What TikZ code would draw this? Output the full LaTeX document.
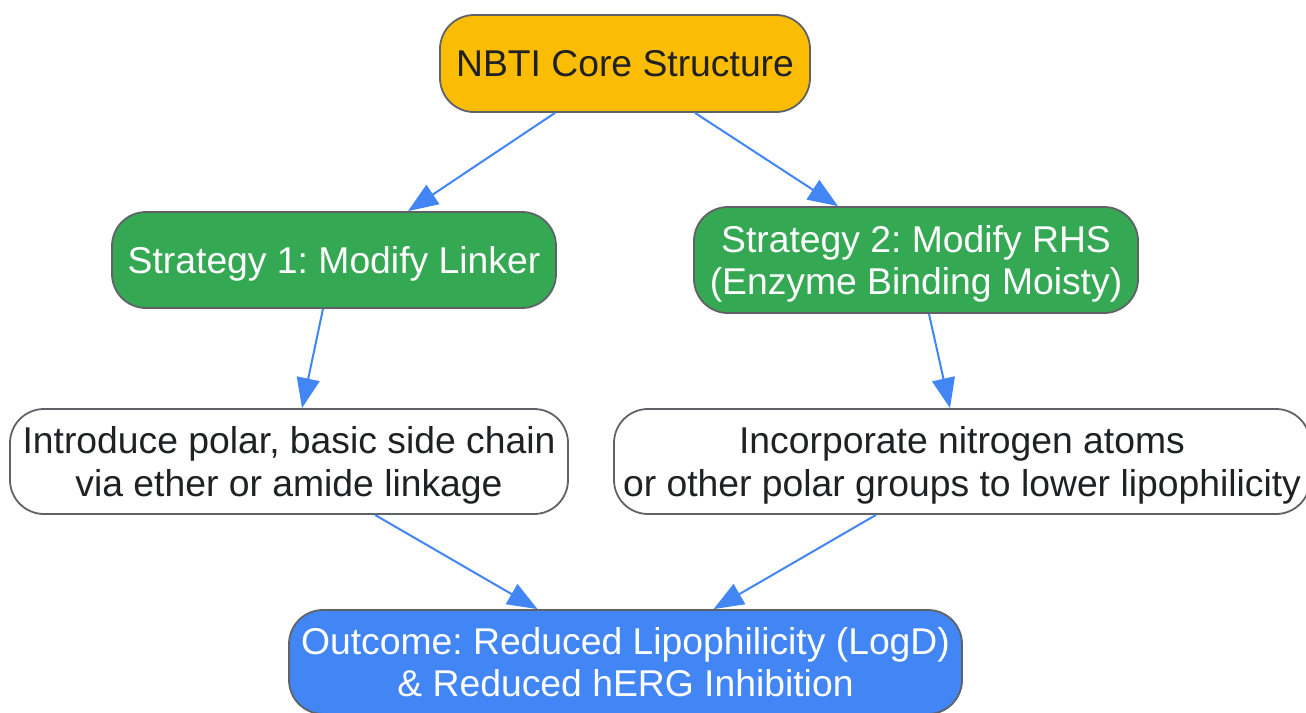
\documentclass[tikz,border=0pt]{standalone}
\usepackage{fontspec}
\setmainfont{Liberation Sans}
\usetikzlibrary{arrows.meta}
\definecolor{coreyellow}{HTML}{FBBC04}
\definecolor{stratgreen}{HTML}{34A853}
\definecolor{outblue}{HTML}{4285F4}
\definecolor{edgegray}{HTML}{5F6368}
\definecolor{inkdark}{HTML}{202124}
\begin{document}
\frenchspacing
\begin{tikzpicture}[x=1pt,y=-1pt,
    box/.style={draw=edgegray,line width=1.8pt,rounded corners=34pt,align=center,inner sep=0pt,
      text depth=0pt,font=\fontsize{37.3}{42.5}\selectfont,text=inkdark},
    flow/.style={draw=outblue,line width=2pt,-{Triangle[length=30pt,width=23pt]}}]
  \useasboundingbox (0,0) rectangle (1306,712);
  \fill[white] (0,0) rectangle (1306,712);
  % nodes
  \node[box,fill=coreyellow,minimum width=370pt,minimum height=97pt] (core) at (625,63.5) {NBTI Core Structure};
  \node[box,fill=stratgreen,text=white,minimum width=444pt,minimum height=96pt] (linker) at (334,260) {Strategy 1: Modify Linker};
  \node[box,fill=stratgreen,text=white,minimum width=444pt,minimum height=106pt] (rhs) at (916,260) {Strategy 2: Modify RHS\\(Enzyme Binding Moisty)};
  \node[box,fill=white,minimum width=558pt,minimum height=105pt] (polar) at (289,461.5) {Introduce polar, basic side chain\\via ether or amide linkage};
  \node[box,fill=white,minimum width=696pt,minimum height=105pt] (nitro) at (962,461.5) {Incorporate nitrogen atoms\\or other polar groups to lower lipophilicity};
  \node[box,fill=outblue,text=white,minimum width=673pt,minimum height=104pt] (outcome) at (625.5,662) {Outcome: Reduced Lipophilicity (LogD)\\\& Reduced hERG Inhibition};
  % arrows
  \draw[flow] ([xshift=-70pt]core.south) -- ([xshift=74pt]linker.north);
  \draw[flow] ([xshift=70pt]core.south) -- ([xshift=-78pt]rhs.north);
  \draw[flow] ([xshift=-11pt]linker.south) -- ([xshift=13pt]polar.north);
  \draw[flow] ([xshift=13pt]rhs.south) -- ([xshift=-12pt]nitro.north);
  \draw[flow] ([xshift=86pt]polar.south) -- ([xshift=-88pt]outcome.north);
  \draw[flow] ([xshift=-86pt]nitro.south) -- ([xshift=88pt]outcome.north);
\end{tikzpicture}
\end{document}
